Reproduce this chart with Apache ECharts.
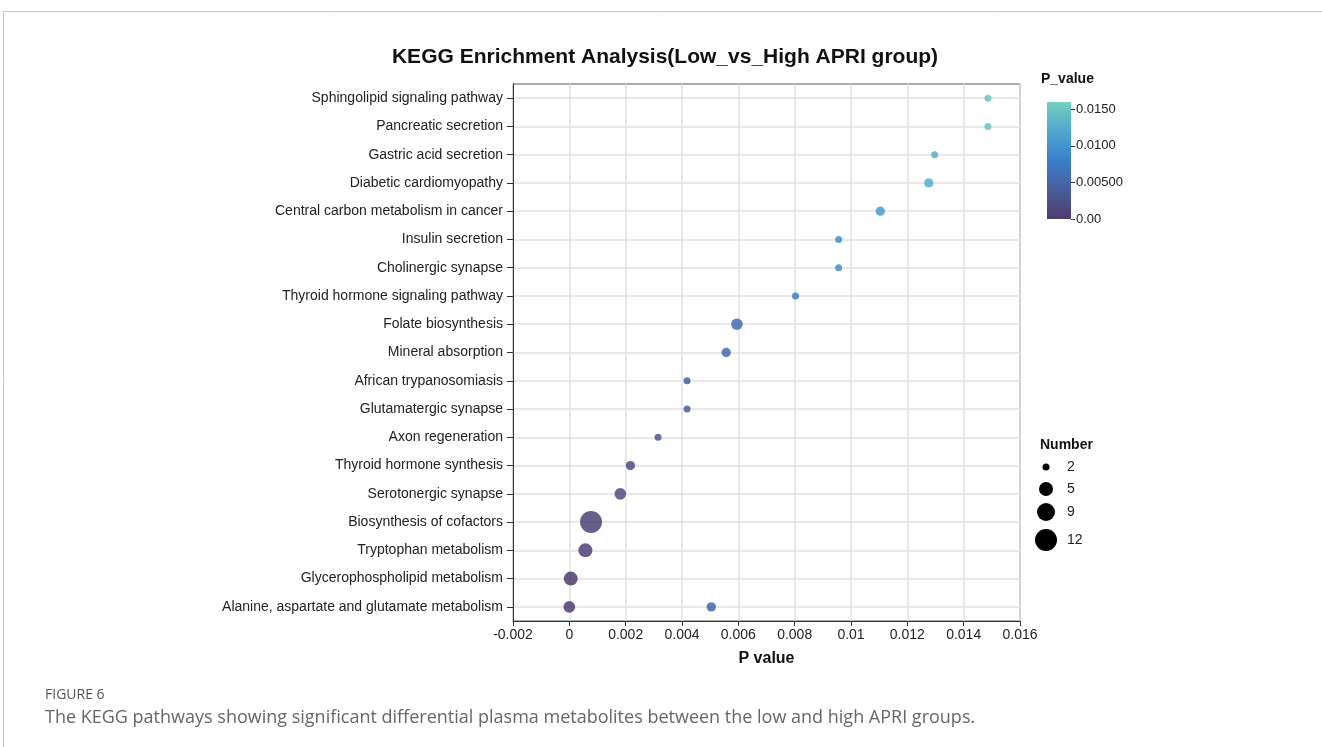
<!DOCTYPE html>
<html>
<head>
<meta charset="utf-8">
<script src="https://cdn.jsdelivr.net/npm/echarts@6/dist/echarts.min.js"></script>
<style>
  html, body { margin: 0; padding: 0; background: #fff; }
  #main { width: 1322px; height: 747px; }
</style>
</head>
<body>
<div id="main"></div>
<script>
var myChart = echarts.init(document.getElementById('main'));

// pathways, top to bottom
const pathways = [
    'Sphingolipid signaling pathway',
    'Pancreatic secretion',
    'Gastric acid secretion',
    'Diabetic cardiomyopathy',
    'Central carbon metabolism in cancer',
    'Insulin secretion',
    'Cholinergic synapse',
    'Thyroid hormone signaling pathway',
    'Folate biosynthesis',
    'Mineral absorption',
    'African trypanosomiasis',
    'Glutamatergic synapse',
    'Axon regeneration',
    'Thyroid hormone synthesis',
    'Serotonergic synapse',
    'Biosynthesis of cofactors',
    'Tryptophan metabolism',
    'Glycerophospholipid metabolism',
    'Alanine, aspartate and glutamate metabolism'
];

// one entry per dot (the last row carries two dots)
const dotPathway = pathways.concat(['Alanine, aspartate and glutamate metabolism']);
const pValues = [0.01486, 0.01486, 0.01297, 0.01276, 0.01104, 0.00956, 0.00956, 0.00803,
    0.00595, 0.00557, 0.00418, 0.00418, 0.00315, 0.00217, 0.00181, 0.00077, 0.00057,
    0.00005, 0.0, 0.00504];
const numbers = [2, 2, 2, 3, 3, 2, 2, 2, 4, 3, 2, 2, 2, 3, 4, 12, 5, 5, 4, 3];

const sizeLegend = [2, 5, 9, 12];
const colorTicks = [0, 0.005, 0.01, 0.015];
const colorTickLabels = ['0.00', '0.00500', '0.0100', '0.0150'];
const rampColors = ['#4f3c6d', '#4a5d9c', '#3a7fcb', '#4ea7cf', '#76d0bc'];

const font = '"Liberation Sans", Arial, Helvetica, sans-serif';

// diameter for a count, interpolated through the size legend
const sizeAnchors = [[2, 7], [5, 14], [9, 18], [12, 22]];
function sizeOf(n) {
    for (let i = 1; i < sizeAnchors.length; i++) {
        if (n <= sizeAnchors[i][0]) {
            const a = sizeAnchors[i - 1], b = sizeAnchors[i];
            return a[1] + (b[1] - a[1]) * (n - a[0]) / (b[0] - a[0]);
        }
    }
    return sizeAnchors[sizeAnchors.length - 1][1];
}

const dots = pValues.map(function (p, i) {
    return [p, dotPathway[i], numbers[i]];
});

// size legend pieces
const legendY = [467, 489, 512, 540];
const sizeGraphics = [];
sizeLegend.forEach(function (n, i) {
    sizeGraphics.push({
        type: 'circle',
        shape: {cx: 1046, cy: legendY[i], r: sizeOf(n) / 2},
        style: {fill: '#000'}
    });
    sizeGraphics.push({
        type: 'text',
        x: 1067, y: legendY[i],
        style: {text: String(n), font: '14px ' + font, fill: '#222', verticalAlign: 'middle'}
    });
});

// colour bar drawn as a gradient, same ramp as the visualMap
const rampStops = rampColors.map(function (c, i) {
    return {offset: i / (rampColors.length - 1), color: c};
});

let option = {
    animation: false,
    title: [
        {
            text: 'KEGG Enrichment Analysis(Low_vs_High APRI group)',
            left: 660, top: 42, textAlign: 'center',
            textStyle: {fontFamily: font, fontSize: 21, fontWeight: 'bold', color: '#111'}
        },
        {
            text: 'FIGURE 6',
            left: 40, top: 683,
            textStyle: {fontFamily: '"Open Sans", sans-serif', fontSize: 14, fontWeight: 'normal', color: '#555'}
        },
        {
            text: 'The KEGG pathways showing significant differential plasma metabolites between the low and high APRI groups.',
            left: 40, top: 704,
            textStyle: {fontFamily: '"Open Sans", sans-serif', fontSize: 18, fontWeight: 'normal', color: '#666'}
        }
    ],
    grid: [
        {left: 513, right: 302, top: 84, bottom: 126, show: true, borderColor: '#555', borderWidth: 1},
        {left: 1047, width: 24, top: 109.3, height: 109.7}
    ],
    xAxis: [
        {
            type: 'value', min: -0.002, max: 0.016, interval: 0.002,
            name: 'P value', nameLocation: 'middle', nameGap: 30,
            nameTextStyle: {fontFamily: font, fontSize: 16, fontWeight: 'bold', color: '#111'},
            axisLine: {show: true, onZero: false, lineStyle: {color: '#333'}},
            axisTick: {show: true, length: 5, lineStyle: {color: '#333'}},
            axisLabel: {fontFamily: font, fontSize: 14, color: '#222', margin: 7},
            splitLine: {show: true, lineStyle: {color: '#e0e0e0', width: 1.5}}
        },
        {gridIndex: 1, type: 'value', show: false}
    ],
    yAxis: [
        {
            type: 'category', data: pathways, inverse: true,
            axisLine: {show: true, onZero: false, lineStyle: {color: '#333'}},
            axisTick: {show: true, alignWithLabel: true, length: 6, lineStyle: {color: '#333'}},
            axisLabel: {fontFamily: font, fontSize: 14, color: '#222', margin: 10},
            splitLine: {show: true, alignWithLabel: true, lineStyle: {color: '#e0e0e0', width: 1.5}}
        },
        {
            gridIndex: 1, type: 'value', position: 'right', min: 0, max: 0.015, interval: 0.005,
            axisLine: {show: false, onZero: false},
            axisTick: {show: true, length: 4, lineStyle: {color: '#333'}},
            axisLabel: {
                fontFamily: font, fontSize: 13, color: '#222', margin: 5,
                formatter: function (v) {
                    const i = colorTicks.findIndex(function (t) { return Math.abs(t - v) < 1e-9; });
                    return i >= 0 ? colorTickLabels[i] : '';
                }
            },
            splitLine: {show: false}
        }
    ],
    visualMap: {
        type: 'continuous', show: false, min: 0, max: 0.016, dimension: 0, seriesIndex: 0,
        inRange: {color: rampColors}
    },
    graphic: [
        {
            type: 'polyline', silent: true,
            shape: {points: [[3.5, 747], [3.5, 11.5], [1322, 11.5]]},
            style: {stroke: '#c8c8c8', lineWidth: 1, fill: null}
        },
        {
            type: 'rect', silent: true,
            shape: {x: 1047, y: 102, width: 24, height: 117},
            style: {fill: new echarts.graphic.LinearGradient(0, 1, 0, 0, rampStops)}
        },
        {
            type: 'text', x: 1041, y: 72,
            style: {text: 'P_value', font: 'bold 14px ' + font, fill: '#111'}
        },
        {
            type: 'text', x: 1040, y: 438,
            style: {text: 'Number', font: 'bold 14px ' + font, fill: '#111'}
        }
    ].concat(sizeGraphics),
    series: [
        {
            type: 'scatter',
            data: dots,
            symbolSize: function (val) { return sizeOf(val[2]); },
            itemStyle: {opacity: 0.85}
        }
    ]
};

myChart.setOption(option);
</script>
</body>
</html>
